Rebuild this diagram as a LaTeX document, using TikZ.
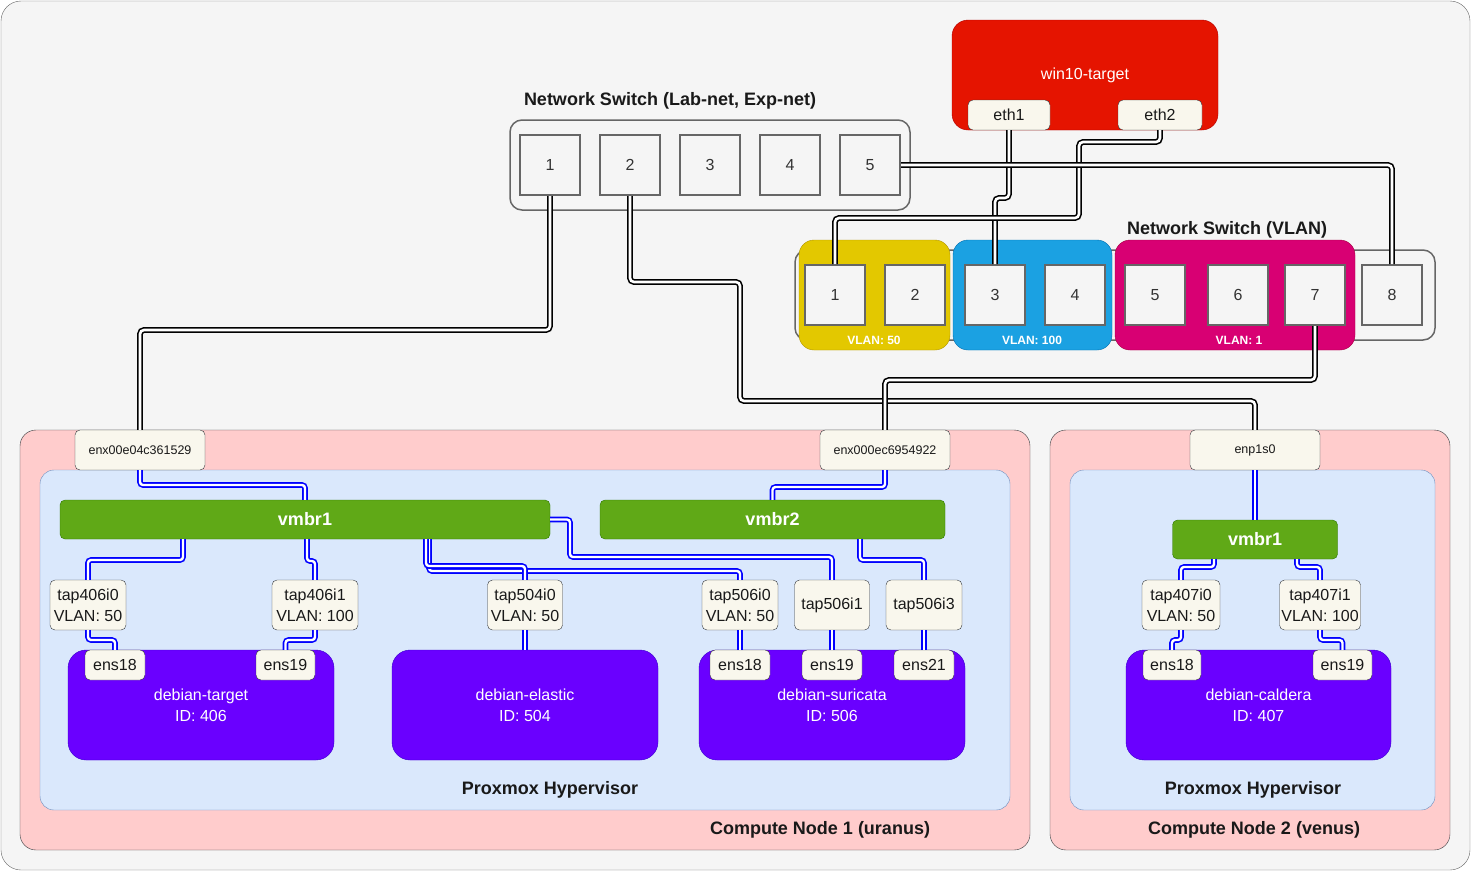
\documentclass[tikz,border=0pt]{standalone}
\usepackage{fontspec}
\setmainfont{Liberation Sans}
\definecolor{cbg}{HTML}{F5F5F5}
\definecolor{cgray}{HTML}{666666}
\definecolor{ctxt}{HTML}{333333}
\definecolor{cnic}{HTML}{F9F7ED}
\definecolor{cnicd}{HTML}{36393D}
\definecolor{cred}{HTML}{E51400}
\definecolor{credd}{HTML}{B20000}
\definecolor{cyel}{HTML}{E3C800}
\definecolor{cyeld}{HTML}{B09500}
\definecolor{cblu}{HTML}{1BA1E2}
\definecolor{cblud}{HTML}{006EAF}
\definecolor{cmag}{HTML}{D80073}
\definecolor{cmagd}{HTML}{A50040}
\definecolor{cgrn}{HTML}{60A917}
\definecolor{cgrnd}{HTML}{2D7600}
\definecolor{cpur}{HTML}{6A00FF}
\definecolor{cpurd}{HTML}{3700CC}
\definecolor{cpink}{HTML}{FFCCCC}
\definecolor{clb}{HTML}{DAE8FC}
\definecolor{clbd}{HTML}{6C8EBF}
\definecolor{clink}{HTML}{0000FF}
\newcommand{\myreg}{\fontsize{16}{21}\selectfont}
\newcommand{\mysmall}{\fontsize{12.5}{15}\selectfont}
\newcommand{\mybold}{\fontsize{18}{21}\selectfont\bfseries}
\newcommand{\myvlan}{\fontsize{12}{14}\selectfont\bfseries}
\tikzset{
  port/.style={draw=cgray, line width=2pt, fill=cbg, minimum width=60pt, minimum height=60pt, inner sep=0pt, font=\myreg, text=ctxt},
  swbox/.style={draw=cgray, line width=1.5pt, fill=cbg, rounded corners=12pt, inner sep=0pt},
  nic/.style={draw=cnicd, fill=cnic, rounded corners=5pt, inner sep=0pt, font=\myreg, align=center, text=black!90},
  vlanbox/.style={rounded corners=15pt, inner sep=0pt, minimum height=110pt},
  title/.style={font=\mybold, text=black!90, inner sep=0pt},
  bridge/.style={draw=cgrnd, fill=cgrn, rounded corners=5pt, minimum height=39pt, inner sep=0pt, font=\mybold, text=white},
  vm/.style={draw=cpurd, fill=cpur, rounded corners=18pt, minimum width=266pt, minimum height=110pt, inner sep=0pt, font=\myreg, text=white, align=center},
  blink/.style={draw=black, line width=1.6pt, double=white, double distance=2.6pt, rounded corners=4pt},
  ulink/.style={draw=clink, line width=1.6pt, double=white, double distance=2.4pt, rounded corners=3pt},
}
\begin{document}
\begin{tikzpicture}[x=1pt,y=-1pt]
\useasboundingbox (0,0) rectangle (1471,871);
\draw[draw=cgray, fill=cbg, rounded corners=20pt] (1,1) rectangle (1470,870);

% ---- Switch 1
\node[swbox, minimum width=400pt, minimum height=90pt] (sw1) at (710,165) {};
\node[title] (sw1t) at (670,101) {Network Switch (Lab-net, Exp-net)};
\foreach \i/\x in {1/550,2/630,3/710,4/790,5/870}
  \node[port] (sp\i) at (\x,165) {\i};

% ---- win10-target
\node[draw=credd, fill=cred, rounded corners=16pt, minimum width=266pt, minimum height=110pt, inner sep=0pt, font=\myreg, text=white] (win) at (1085,75) {win10-target};
\node[nic, minimum width=82pt, minimum height=30pt] (eth1) at (1009,115) {eth1};
\node[nic, minimum width=84pt, minimum height=30pt] (eth2) at (1160,115) {eth2};

% ---- VLAN switch
\node[swbox, minimum width=640pt, minimum height=90pt] (sw2) at (1115,295) {};
\node[vlanbox, draw=cyeld, fill=cyel, minimum width=151pt] (v50) at (874.5,295) {};
\node[vlanbox, draw=cblud, fill=cblu, minimum width=159pt] (v100) at (1032.5,295) {};
\node[vlanbox, draw=cmagd, fill=cmag, minimum width=240pt] (v1) at (1235,295) {};
\node[font=\myvlan, text=white, inner sep=0pt] (v50t) at (874,340) {VLAN: 50};
\node[font=\myvlan, text=white, inner sep=0pt] (v100t) at (1032,340) {VLAN: 100};
\node[font=\myvlan, text=white, inner sep=0pt] (v1t) at (1239,340) {VLAN: 1};
\node[title] (sw2t) at (1227,230) {Network Switch (VLAN)};
\foreach \i/\x in {1/835,2/915,3/995,4/1075,5/1155,6/1238,7/1315,8/1392}
  \node[port] (vp\i) at (\x,295) {\i};

% ---- Compute node 1
\node[draw=cnicd, fill=cpink, rounded corners=16pt, minimum width=1010pt, minimum height=420pt, inner sep=0pt] (cn1) at (525,640) {};
\node[title] (cn1t) at (820,830) {Compute Node 1 (uranus)};
\node[draw=clbd, fill=clb, rounded corners=14pt, minimum width=970pt, minimum height=340pt, inner sep=0pt] (pv1) at (525,640) {};
\node[title] (pv1t) at (550,790) {Proxmox Hypervisor};
\node[nic, font=\mysmall, minimum width=130pt, minimum height=40pt] (enxA) at (140,450) {enx00e04c361529};
\node[nic, font=\mysmall, minimum width=130pt, minimum height=40pt] (enxB) at (885,450) {enx000ec6954922};
\node[bridge, minimum width=490pt] (br1) at (305,519.5) {vmbr1};
\node[bridge, minimum width=345pt] (br2) at (772.5,519.5) {vmbr2};
\node[nic, minimum width=76pt, minimum height=50pt] (t406a) at (88,605) {tap406i0\\VLAN: 50};
\node[nic, minimum width=86pt, minimum height=50pt] (t406b) at (315,605) {tap406i1\\VLAN: 100};
\node[nic, minimum width=75pt, minimum height=50pt] (t504) at (525,605) {tap504i0\\VLAN: 50};
\node[nic, minimum width=76pt, minimum height=50pt] (t506a) at (740,605) {tap506i0\\VLAN: 50};
\node[nic, minimum width=75pt, minimum height=50pt] (t506b) at (832,605) {tap506i1};
\node[nic, minimum width=76pt, minimum height=50pt] (t506c) at (924,605) {tap506i3};
\node[vm] (vmT) at (201,705) {debian-target\\ID: 406};
\node[vm] (vmE) at (525,705) {debian-elastic\\ID: 504};
\node[vm] (vmS) at (832,705) {debian-suricata\\ID: 506};
\node[nic, minimum width=60pt, minimum height=30pt] (T18) at (115,665) {ens18};
\node[nic, minimum width=59pt, minimum height=30pt] (T19) at (285.5,665) {ens19};
\node[nic, minimum width=60pt, minimum height=30pt] (S18) at (740,665) {ens18};
\node[nic, minimum width=60pt, minimum height=30pt] (S19) at (832,665) {ens19};
\node[nic, minimum width=60pt, minimum height=30pt] (S21) at (924,665) {ens21};

% ---- Compute node 2
\node[draw=cnicd, fill=cpink, rounded corners=16pt, minimum width=400pt, minimum height=420pt, inner sep=0pt] (cn2) at (1250,640) {};
\node[title] (cn2t) at (1254,830) {Compute Node 2 (venus)};
\node[draw=clbd, fill=clb, rounded corners=14pt, minimum width=365pt, minimum height=340pt, inner sep=0pt] (pv2) at (1252.5,640) {};
\node[title] (pv2t) at (1253,790) {Proxmox Hypervisor};
\node[nic, font=\mysmall, minimum width=130pt, minimum height=40pt] (enp) at (1255,450) {enp1s0};
\node[bridge, minimum width=165pt] (br3) at (1255,539.5) {vmbr1};
\node[nic, minimum width=78pt, minimum height=50pt] (t407a) at (1181,605) {tap407i0\\VLAN: 50};
\node[nic, minimum width=81pt, minimum height=50pt] (t407b) at (1320,605) {tap407i1\\VLAN: 100};
\node[vm, minimum width=265pt] (vmC) at (1258.5,705) {debian-caldera\\ID: 407};
\node[nic, minimum width=58pt, minimum height=30pt] (C18) at (1172,665) {ens18};
\node[nic, minimum width=59pt, minimum height=30pt] (C19) at (1342.5,665) {ens19};

% ---- Physical links (black)
\draw[blink] (sp1.south) |- (140,330) -- (enxA.north);
\draw[blink] (sp2.south) |- (740,282) |- (1255,401) -- (enp.north);
\draw[blink] (vp7.south) |- (885,380) -- (enxB.north);
\draw[blink] (eth1.south) |- (995,198) -- (vp3.north);
\draw[blink] (eth2.south) |- (1079,142) |- (835,218) -- (vp1.north);
\draw[blink] (sp5.east) -| (vp8.north);

% ---- Virtual links (blue), node 1
\draw[ulink] (enxA.south) |- (305,485) -- (br1.north);
\draw[ulink] (enxB.south) |- (772.5,487) -- (br2.north);
\draw[ulink] (183,0 |- br1.south) |- (88,560) -- (t406a.north);
\draw[ulink] (307,0 |- br1.south) |- (315,561) -- (t406b.north);
\draw[ulink] (429,0 |- br1.south) |- (740,571) -- (t506a.north);
\draw[ulink] (426,0 |- br1.south) |- (525,566) -- (t504.north);
\draw[ulink] (br1.east) -- (570,519.5) |- (832,557) -- (t506b.north);
\draw[ulink] (860,0 |- br2.south) |- (924,560) -- (t506c.north);
\draw[ulink] (t406a.south) |- (115,640) -- (T18.north);
\draw[ulink] (t406b.south) |- (285.5,640) -- (T19.north);
\draw[ulink] (t504.south) -- (vmE.north);
\draw[ulink] (t506a.south) -- (S18.north);
\draw[ulink] (t506b.south) -- (S19.north);
\draw[ulink] (t506c.south) -- (S21.north);

% ---- Virtual links (blue), node 2
\draw[ulink] (enp.south) -- (br3.north);
\draw[ulink] (1214,0 |- br3.south) |- (1181,567) -- (t407a.north);
\draw[ulink] (1297,0 |- br3.south) |- (1320,567) -- (t407b.north);
\draw[ulink] (t407a.south) |- (1172,640) -- (C18.north);
\draw[ulink] (t407b.south) |- (1342.5,640) -- (C19.north);
\end{tikzpicture}
\end{document}
